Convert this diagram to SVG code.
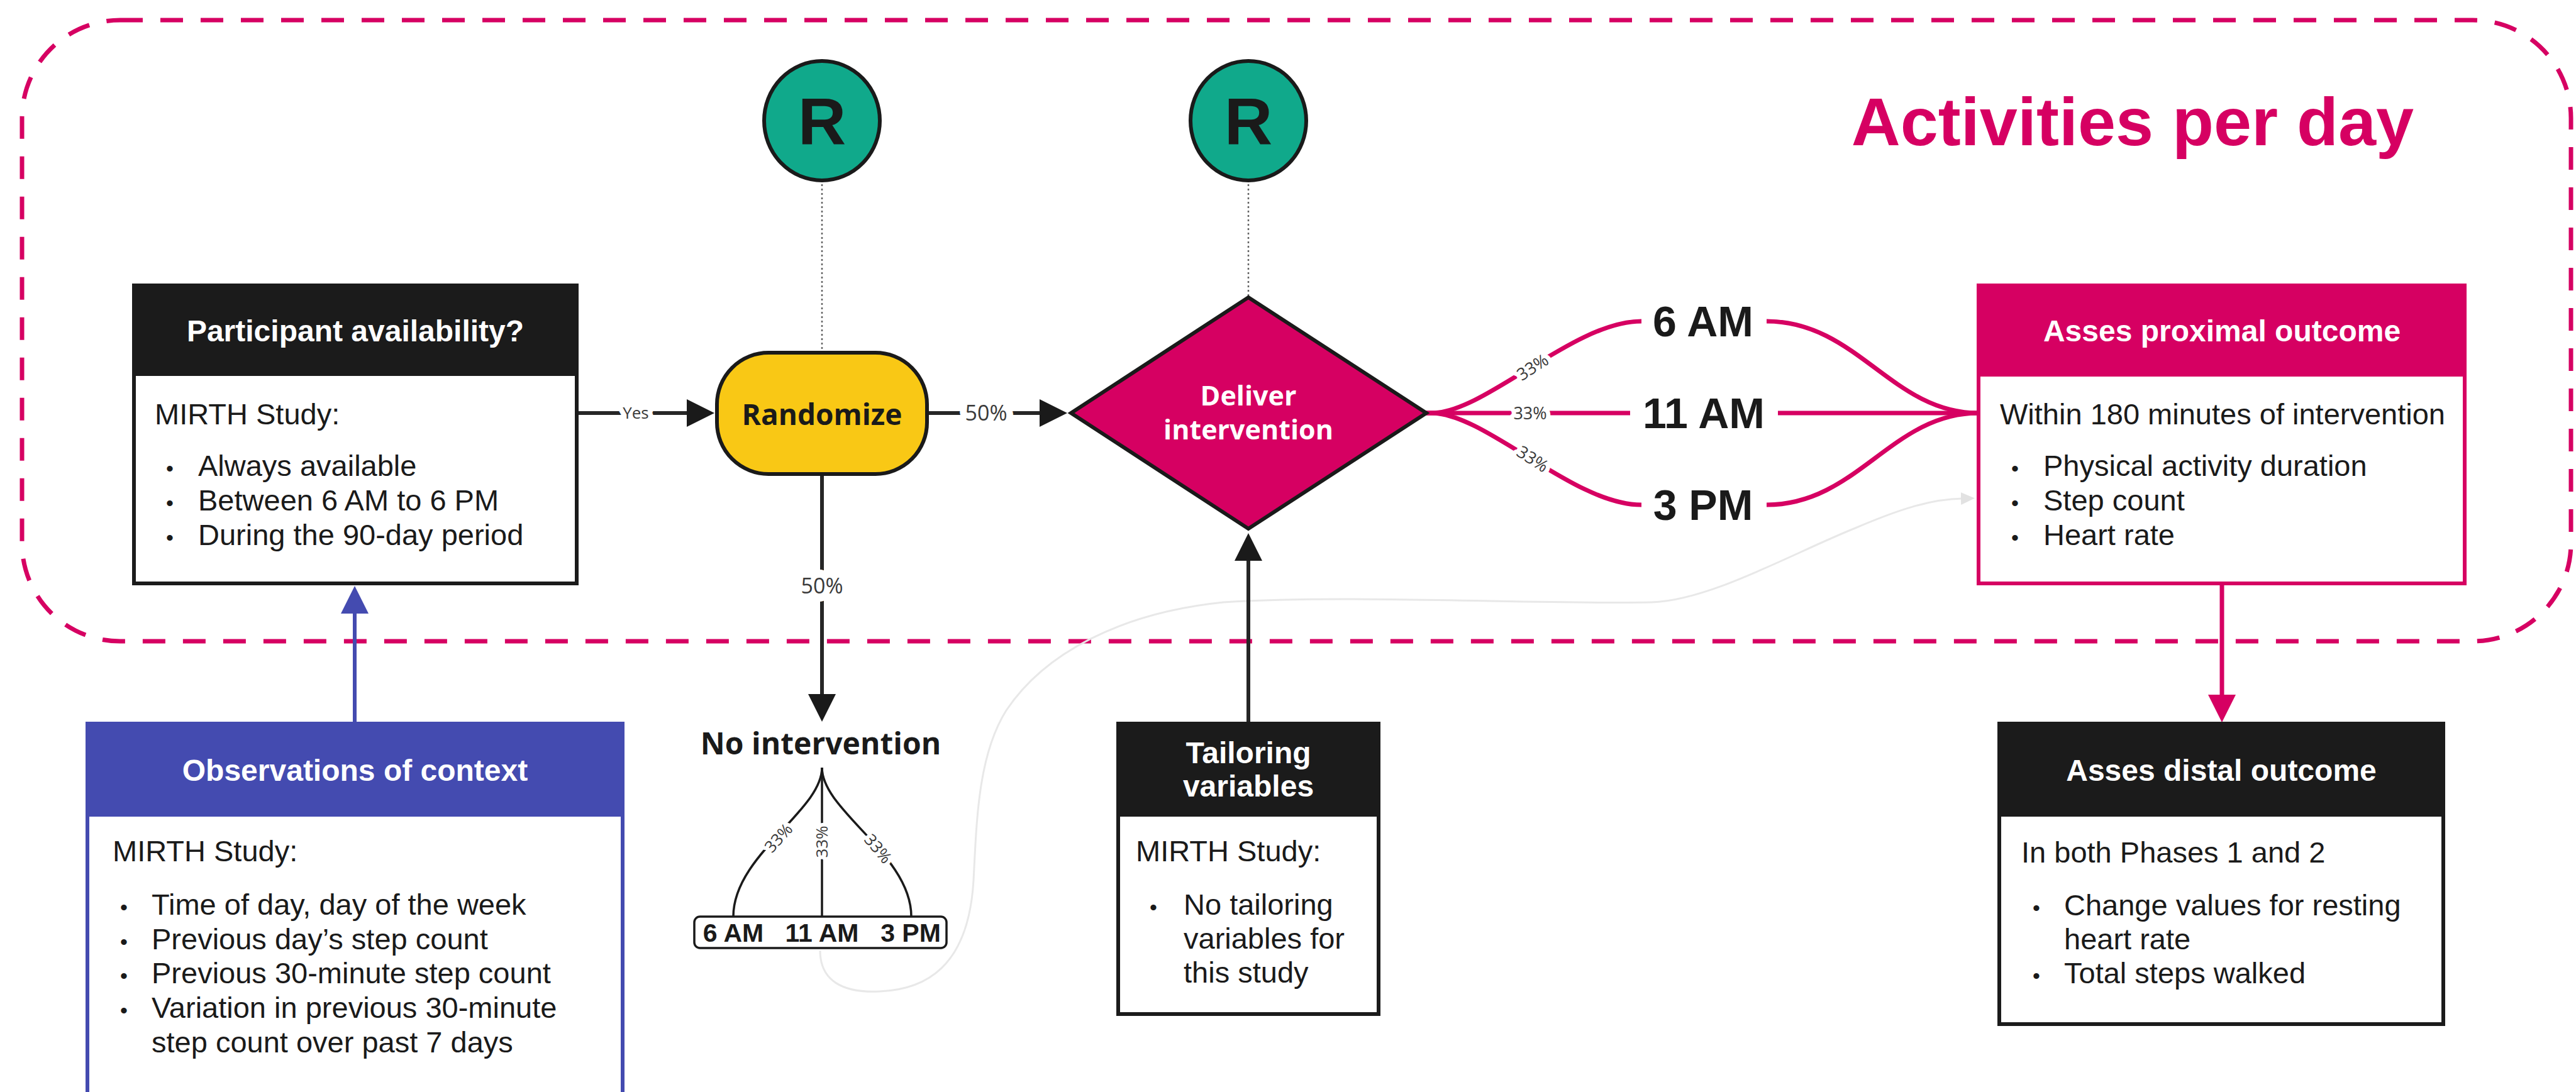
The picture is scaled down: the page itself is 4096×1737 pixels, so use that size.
<svg xmlns="http://www.w3.org/2000/svg" width="4096" height="1737" viewBox="0 0 4096 1737">
<style>
.hdr{font-family:"Liberation Sans",Arial,sans-serif;font-weight:bold;font-size:48px;fill:#fff;text-anchor:middle}
.body{font-family:"Liberation Sans",Arial,sans-serif;font-size:47px;fill:#1a1a1a}
.bul{font-family:"Liberation Sans",Arial,sans-serif;font-size:34px;fill:#1a1a1a;text-anchor:middle}
.lbl{font-family:"Open Sans","DejaVu Sans",sans-serif;fill:#3a3a3a;text-anchor:middle;stroke:#fff;paint-order:stroke;stroke-linejoin:round}
.time{font-family:"Liberation Sans",Arial,sans-serif;font-weight:bold;font-size:68px;fill:#1a1a1a;text-anchor:middle}
.small-time{font-family:"Liberation Sans",Arial,sans-serif;font-weight:bold;font-size:41px;fill:#1a1a1a;text-anchor:middle}
.node{font-family:"Open Sans","Noto Sans",sans-serif;font-weight:bold;text-anchor:middle}
.conn{fill:none;stroke-width:6}
.pink{stroke:#D60062;stroke-width:7}
.dark{stroke:#262626}
.boxline{stroke-width:6}
</style>
<defs>
<marker id="ah-dark" markerUnits="userSpaceOnUse" markerWidth="44" markerHeight="44" viewBox="0 0 44 44" refX="4" refY="22" orient="auto"><path d="M0,0 L44,22 L0,44 z" fill="#1a1a1a"/></marker>
<marker id="ah-pink" markerUnits="userSpaceOnUse" markerWidth="44" markerHeight="44" viewBox="0 0 44 44" refX="4" refY="22" orient="auto"><path d="M0,0 L44,22 L0,44 z" fill="#D60062"/></marker>
<marker id="ah-blue" markerUnits="userSpaceOnUse" markerWidth="44" markerHeight="44" viewBox="0 0 44 44" refX="4" refY="22" orient="auto"><path d="M0,0 L44,22 L0,44 z" fill="#444BB0"/></marker>
<marker id="ah-light" markerUnits="userSpaceOnUse" markerWidth="22" markerHeight="20" viewBox="0 0 22 20" refX="2" refY="10" orient="auto"><path d="M0,0 L22,10 L0,20 z" fill="#e2e2e2"/></marker>
</defs>
<rect width="4096" height="1737" fill="#fff"/>

<g id="activities-frame">
<rect x="35" y="32" width="4053" height="988" rx="156" ry="156" fill="none" stroke="#D60062" stroke-width="7" stroke-dasharray="36 28"/>
<text x="3391" y="231" font-family="Liberation Sans, Arial, sans-serif" font-weight="bold" font-size="108" fill="#D60062" text-anchor="middle">Activities per day</text>
</g>

<g id="connectors">
<path d="M1304,1512 C1304,1560 1340,1580 1399,1577 C1470,1574 1540,1540 1548,1400 C1553,1300 1556,1200 1600,1130 C1660,1040 1780,975 1945,958 C2150,945 2450,962 2626,958 C2720,955 2850,880 2950,840 C3020,810 3070,794 3120,793" fill="none" stroke="#e8e8e8" stroke-width="3" marker-end="url(#ah-light)"/>
<line x1="1307" y1="286" x2="1307" y2="560" stroke="#666" stroke-width="2.5" stroke-dasharray="3 4"/>
<line x1="1985" y1="286" x2="1985" y2="473" stroke="#666" stroke-width="2.5" stroke-dasharray="3 4"/>
<path class="conn dark" d="M917,657 L1096,657" marker-end="url(#ah-dark)"/>
<text class="lbl" x="1011" y="666" font-size="26" stroke-width="16">Yes</text>
<path class="conn dark" d="M1474,657 L1657,657" marker-end="url(#ah-dark)"/>
<text class="lbl" x="1568" y="669" font-size="34" stroke-width="22">50%</text>
<path class="conn dark" d="M1307,754 L1307,1108" marker-end="url(#ah-dark)"/>
<text class="lbl" x="1307" y="944" font-size="34" stroke-width="26">50%</text>
<path class="conn dark" d="M1985,1150 L1985,888" marker-end="url(#ah-dark)"/>
<path class="conn" stroke="#444BB0" d="M564,1150 L564,972" marker-end="url(#ah-blue)"/>
<path class="conn pink" d="M3533,929 L3533,1109" marker-end="url(#ah-pink)"/>
<path class="conn pink" d="M2266,657 L2276,657 C2362,657 2501,511 2610,511"/>
<path class="conn pink" d="M2809,511 C2953,511 3008,657 3146,657"/>
<path class="conn pink" d="M2266,657 L2592,657"/>
<path class="conn pink" d="M2827,657 L3146,657"/>
<path class="conn pink" d="M2266,657 L2276,657 C2362,657 2501,803 2610,803"/>
<path class="conn pink" d="M2809,803 C2953,803 3008,657 3146,657"/>
<text class="lbl" font-size="27" stroke-width="14" transform="translate(2437,584) rotate(-33)" x="0" y="9.5">33%</text>
<text class="lbl" font-size="27" stroke-width="14" x="2433" y="666.5">33%</text>
<text class="lbl" font-size="27" stroke-width="14" transform="translate(2437,730) rotate(33)" x="0" y="9.5">33%</text>
<text class="time" x="2708" y="535">6 AM</text>
<text class="time" x="2709" y="681">11 AM</text>
<text class="time" x="2708" y="827">3 PM</text>
<path fill="none" stroke="#1a1a1a" stroke-width="3.5" d="M1307,1221 C1307,1290 1166,1360 1166,1458"/>
<path fill="none" stroke="#1a1a1a" stroke-width="3.5" d="M1307,1221 L1307,1458"/>
<path fill="none" stroke="#1a1a1a" stroke-width="3.5" d="M1307,1221 C1307,1290 1449,1360 1449,1458"/>
<text class="lbl" font-size="26" stroke-width="12" transform="translate(1238,1333) rotate(-48)" x="0" y="9">33%</text>
<text class="lbl" font-size="26" stroke-width="12" transform="translate(1307,1339) rotate(-90)" x="0" y="9">33%</text>
<text class="lbl" font-size="26" stroke-width="12" transform="translate(1396,1350) rotate(50)" x="0" y="9">33%</text>
</g>

<g id="participant-availability">
<rect x="213" y="454" width="704" height="474" fill="#fff" stroke="#1b1b1b" class="boxline"/>
<rect x="213" y="454" width="704" height="144" fill="#1b1b1b"/>
<text class="hdr" x="565" y="543">Participant availability?</text>
<text class="body" x="246" y="675">MIRTH Study:</text>
<text class="bul" x="270" y="757">•</text><text class="body" x="315" y="757">Always available</text>
<text class="bul" x="270" y="812">•</text><text class="body" x="315" y="812">Between 6 AM to 6 PM</text>
<text class="bul" x="270" y="867">•</text><text class="body" x="315" y="867">During the 90-day period</text>
</g>

<g id="r-circle-1">
<ellipse cx="1307" cy="192" rx="92" ry="95" fill="#10A98B" stroke="#1a1a1a" stroke-width="6"/>
<text x="1307" y="230" font-family="Liberation Sans, Arial, sans-serif" font-weight="bold" font-size="106" fill="#1a1a1a" text-anchor="middle">R</text>
</g>
<g id="r-circle-2">
<ellipse cx="1985" cy="192" rx="92" ry="95" fill="#10A98B" stroke="#1a1a1a" stroke-width="6"/>
<text x="1985" y="230" font-family="Liberation Sans, Arial, sans-serif" font-weight="bold" font-size="106" fill="#1a1a1a" text-anchor="middle">R</text>
</g>

<g id="randomize">
<rect x="1140" y="561" width="334" height="193" rx="82" ry="82" fill="#F9C815" stroke="#1a1a1a" stroke-width="6"/>
<text class="node" x="1307" y="676" font-size="46" fill="#1a1a1a">Randomize</text>
</g>

<g id="deliver-intervention">
<polygon points="1985,473 2268,657 1985,841 1703,657" fill="#D60062" stroke="#1a1a1a" stroke-width="6" stroke-linejoin="miter"/>
<text class="node" x="1985" y="645" font-size="43" fill="#fff">Deliver</text>
<text class="node" x="1985" y="699" font-size="43" fill="#fff">intervention</text>
</g>

<g id="no-intervention">
<text class="node" x="1305" y="1200" font-size="48" fill="#1a1a1a">No intervention</text>
<rect x="1104" y="1458" width="401" height="50" rx="9" ry="9" fill="#fff" stroke="#1a1a1a" stroke-width="3.5"/>
<text class="small-time" x="1166" y="1498">6 AM</text>
<text class="small-time" x="1307" y="1498">11 AM</text>
<text class="small-time" x="1448" y="1498">3 PM</text>
</g>

<g id="proximal-outcome">
<rect x="3146" y="454" width="773" height="474" fill="#fff" stroke="#D60062" class="boxline"/>
<rect x="3146" y="454" width="773" height="145" fill="#D60062"/>
<text class="hdr" x="3533" y="543">Asses proximal outcome</text>
<text class="body" x="3180" y="675">Within 180 minutes of intervention</text>
<text class="bul" x="3204" y="757">•</text><text class="body" x="3249" y="757">Physical activity duration</text>
<text class="bul" x="3204" y="812">•</text><text class="body" x="3249" y="812">Step count</text>
<text class="bul" x="3204" y="867">•</text><text class="body" x="3249" y="867">Heart rate</text>
</g>

<g id="observations-of-context">
<rect x="139" y="1151" width="851" height="640" fill="#fff" stroke="#444BB0" class="boxline"/>
<rect x="139" y="1151" width="851" height="148" fill="#444BB0"/>
<text class="hdr" x="564.5" y="1242">Observations of context</text>
<text class="body" x="179" y="1370">MIRTH Study:</text>
<text class="bul" x="197" y="1455">•</text><text class="body" x="241" y="1455">Time of day, day of the week</text>
<text class="bul" x="197" y="1510">•</text><text class="body" x="241" y="1510">Previous day’s step count</text>
<text class="bul" x="197" y="1564">•</text><text class="body" x="241" y="1564">Previous 30-minute step count</text>
<text class="bul" x="197" y="1619">•</text><text class="body" x="241" y="1619">Variation in previous 30-minute</text>
<text class="body" x="241" y="1674">step count over past 7 days</text>
</g>

<g id="tailoring-variables">
<rect x="1778" y="1151" width="414" height="462" fill="#fff" stroke="#1b1b1b" class="boxline"/>
<rect x="1778" y="1151" width="414" height="148" fill="#1b1b1b"/>
<text class="hdr" x="1985" y="1214">Tailoring</text>
<text class="hdr" x="1985" y="1267">variables</text>
<text class="body" x="1806" y="1370">MIRTH Study:</text>
<text class="bul" x="1834" y="1455">•</text><text class="body" x="1882" y="1455">No tailoring</text>
<text class="body" x="1882" y="1509">variables for</text>
<text class="body" x="1882" y="1563">this study</text>
</g>

<g id="distal-outcome">
<rect x="3179" y="1151" width="706" height="478" fill="#fff" stroke="#1b1b1b" class="boxline"/>
<rect x="3179" y="1151" width="706" height="148" fill="#1b1b1b"/>
<text class="hdr" x="3532" y="1242">Asses distal outcome</text>
<text class="body" x="3214" y="1372">In both Phases 1 and 2</text>
<text class="bul" x="3238" y="1456">•</text><text class="body" x="3282" y="1456">Change values for resting</text>
<text class="body" x="3282" y="1510">heart rate</text>
<text class="bul" x="3238" y="1564">•</text><text class="body" x="3282" y="1564">Total steps walked</text>
</g>
</svg>
